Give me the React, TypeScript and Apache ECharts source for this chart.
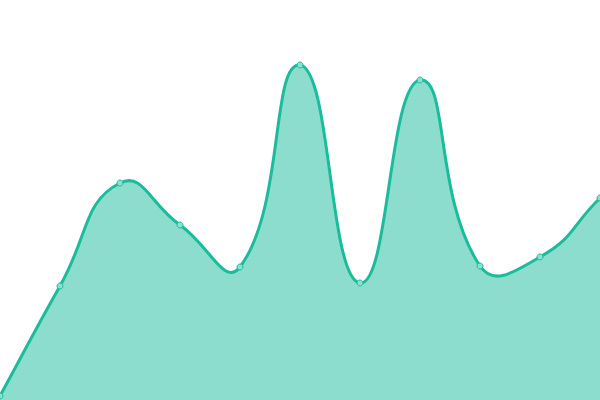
import React, { useEffect, useRef } from 'react'
import * as echarts from 'echarts'

// x 카테고리 (축은 숨김)
const categories = ['1', '2', '3', '4', '5', '6', '7', '8', '9', '10', '11']
// 값 (0~100 범위)
const values = [1, 28.5, 54.25, 43.75, 33.25, 83.75, 29.25, 80, 33.5, 35.75, 50.5]

const yMin = 0
const yMax = 100
const smooth = 0.5

// 제어점을 자르지 않는 스무딩 곡선 (살짝 넘치는 모양)
function buildCurve(pts: number[][]) {
  let d = `M${pts[0][0]},${pts[0][1]}`
  const cps: number[][][] = pts.map((p, i) => {
    const prev = pts[i > 0 ? i - 1 : i]
    const next = pts[i < pts.length - 1 ? i + 1 : i]
    const vx = next[0] - prev[0]
    const vy = next[1] - prev[1]
    let d0 = Math.hypot(p[0] - prev[0], p[1] - prev[1])
    let d1 = Math.hypot(next[0] - p[0], next[1] - p[1])
    const sum = d0 + d1
    if (sum !== 0) {
      d0 /= sum
      d1 /= sum
    }
    return [
      [p[0] - vx * d0 * smooth, p[1] - vy * d0 * smooth],
      [p[0] + vx * d1 * smooth, p[1] + vy * d1 * smooth]
    ]
  })
  for (let i = 1; i < pts.length; i++) {
    const c1 = cps[i - 1][1]
    const c2 = cps[i][0]
    d += ` C${c1[0]},${c1[1]} ${c2[0]},${c2[1]} ${pts[i][0]},${pts[i][1]}`
  }
  return d
}

export default function App() {
  const chartRef = useRef<HTMLDivElement>(null)

  useEffect(() => {
    if (!chartRef.current) {
      return
    }
    const chart = echarts.init(chartRef.current, null, { renderer: 'svg' })

    chart.setOption({
      animation: false,
      grid: {
        left: 0,
        right: 0,
        top: 0,
        bottom: 0
      },
      xAxis: {
        type: 'category',
        data: categories,
        boundaryGap: false,
        show: false
      },
      yAxis: {
        type: 'value',
        min: yMin,
        max: yMax,
        show: false
      },
      series: [
        {
          type: 'custom',
          data: [[0, 0]],
          renderItem: (params: any, api: any) => {
            const pts = values.map((v, i) => api.coord([i, v]))
            const base = api.coord([0, yMin])[1]
            const line = buildCurve(pts)
            const last = pts[pts.length - 1]
            const area = `${line} L${last[0]},${base} L${pts[0][0]},${base} Z`
            return {
              type: 'group',
              children: [
                {
                  type: 'path',
                  shape: { pathData: area },
                  style: { fill: 'rgba(26, 188, 156, 0.5)', stroke: 'none' }
                },
                {
                  type: 'path',
                  shape: { pathData: line },
                  style: { fill: 'none', stroke: '#1abc9c', lineWidth: 3 }
                }
              ]
            }
          }
        },
        {
          type: 'scatter',
          data: values.map((v, i) => [i, v]),
          symbol: 'circle',
          symbolSize: 6,
          itemStyle: {
            color: '#8ce0cf',
            borderColor: '#1abc9c',
            borderWidth: 1,
            opacity: 1
          }
        }
      ]
    })

    return () => {
      chart.dispose()
    }
  }, [])

  return (
    <div
      ref={chartRef}
      style={{
        position: 'fixed',
        left: 0,
        top: 0,
        width: 600,
        height: 400,
        background: '#ffffff'
      }}
    />
  )
}
